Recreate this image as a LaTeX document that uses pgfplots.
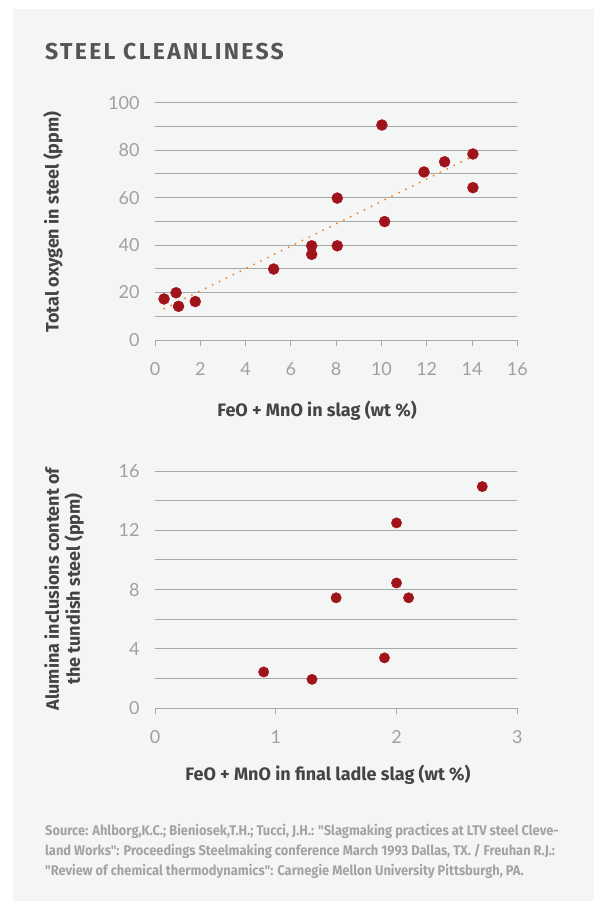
\documentclass[border=0pt]{standalone}
\usepackage{pgfplots}
\pgfplotsset{compat=1.18}
\usepackage{fontspec}
\setmainfont{Lato}
\newfontfamily\labelfont{Fira Sans}
\newfontfamily\titlefont{Fira Sans}[LetterSpace=10]
\newfontfamily\srcfont{Fira Sans}[FakeStretch=0.92]
\definecolor{panel}{HTML}{F4F5F5}
\definecolor{gridc}{HTML}{A8A8A8}
\definecolor{tickc}{HTML}{A0A0A0}
\definecolor{labc}{HTML}{444444}
\definecolor{titc}{HTML}{555555}
\definecolor{dotc}{HTML}{A0131A}
\definecolor{trend}{HTML}{F07D0A}
\definecolor{srcc}{HTML}{A3A3A3}
\pgfplotsset{mystyle/.style={
 scale only axis, width=362.3pt, height=237.3pt,
 axis x line*=bottom, axis y line*=left,
 y axis line style={draw=none},
 x axis line style={gridc, line width=1pt},
 ytick style={draw=none},
 xtick style={gridc, line width=1pt},
 tick align=outside, major tick length=6pt,
 ymajorgrids, yminorgrids,
 major grid style={gridc, line width=1pt},
 minor grid style={gridc, line width=1pt},
 minor tick style={draw=none},
 tick label style={font=\fontsize{18}{18}\selectfont, text=tickc},
 xticklabel style={yshift=-13pt},
 yticklabel style={xshift=-6pt},
 /pgf/number format/assume math mode=true,
 clip=false,
}}
\begin{document}
\begin{tikzpicture}[x=1pt,y=1pt]
\useasboundingbox (0,0) rectangle (594,-901);
\fill[white] (0,0) rectangle (594,-901);
\fill[panel] (13,-9) rectangle (594,-901);
\node[anchor=base west, inner sep=0pt, text=titc, font=\fontsize{23}{23}\selectfont\titlefont\bfseries] at (45,-60) {STEEL CLEANLINESS};
\begin{axis}[mystyle, at={(155pt,-340pt)}, anchor=south west,
  xmin=0, xmax=16, ymin=0, ymax=100,
  xtick={0,2,...,16}, ytick={0,20,...,100}, minor ytick={10,30,...,90}]
\addplot[trend, line width=2pt, dash pattern=on 0pt off 7.7pt, line cap=round] coordinates {(0.41,13.2) (13.88,76.7)};
\addplot[only marks, mark=*, mark size=5.5pt, mark options={draw=dotc, fill=dotc}] coordinates {
(0.40,17.3) (0.93,19.9) (1.04,14.2) (1.78,16.2) (5.24,29.9) (6.92,39.7) (6.92,36.1)
(8.05,59.8) (8.05,39.7) (10.02,90.6) (10.14,49.9) (11.88,70.8) (12.79,75.1) (14.04,78.4) (14.04,64.2)};
\end{axis}
\begin{axis}[mystyle, at={(155pt,-708.3pt)}, anchor=south west,
  xmin=0, xmax=3, ymin=0, ymax=16,
  xtick={0,1,2,3}, ytick={0,4,...,16}, minor ytick={2,6,...,14}]
\addplot[only marks, mark=*, mark size=5.2pt, mark options={draw=dotc, fill=dotc}] coordinates {
(0.9,2.45) (1.3,1.95) (1.5,7.45) (1.9,3.4) (2.0,12.5) (2.0,8.45) (2.1,7.45) (2.71,14.95)};
\end{axis}
\node[rotate=90, text=labc, font=\fontsize{18}{18}\selectfont\labelfont\bfseries] at (53,-222) {Total oxygen in steel (ppm)};
\node[rotate=90, text=labc, align=center, font=\fontsize{18}{21}\selectfont\labelfont\bfseries] at (64,-589) {Alumina inclusions content of\\the tundish steel (ppm)};
\node[text=labc, font=\fontsize{18}{18}\selectfont\labelfont\bfseries] at (317,-411) {FeO + MnO in slag (wt \%)};
\node[text=labc, font=\fontsize{18}{18}\selectfont\labelfont\bfseries] at (328,-775) {FeO + MnO in final ladle slag (wt \%)};
\begin{scope}[every node/.style={anchor=base west, text=srcc, font=\fontsize{14}{14}\selectfont\srcfont\bfseries, inner sep=0pt}]
\node at (45,-835) {Source: Ahlborg,K.C.; Bieniosek,T.H.; Tucci, J.H.: "Slagmaking practices at LTV steel Cleve-};
\node at (45,-855) {land Works": Proceedings Steelmaking conference March 1993 Dallas, TX. / Freuhan R.J.:};
\node at (45,-875) {"Review of chemical thermodynamics": Carnegie Mellon University Pittsburgh, PA.};
\end{scope}
\end{tikzpicture}
\end{document}
